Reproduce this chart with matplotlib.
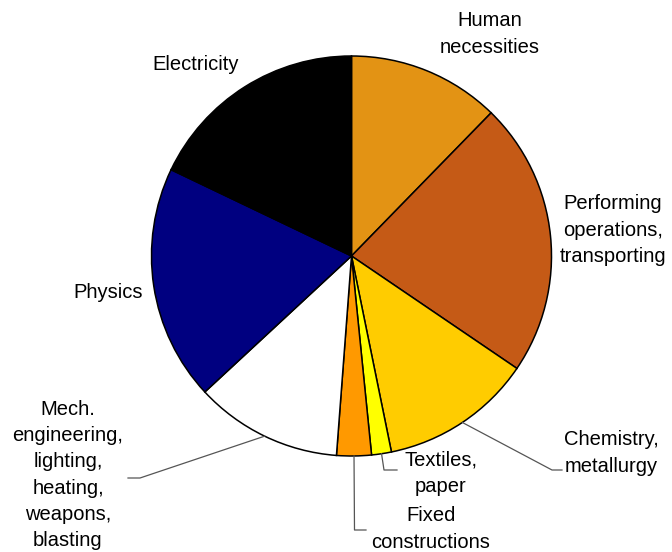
import numpy as np
import matplotlib
matplotlib.use("Agg")
import matplotlib.pyplot as plt

plt.rcParams['font.family'] = ['Liberation Sans', 'DejaVu Sans']

# share of patents by IPC section (percent), clockwise from the top
sections = ["Human\nnecessities", "Performing\noperations,\ntransporting",
            "Chemistry,\nmetallurgy", "Textiles,\npaper", "Fixed\nconstructions",
            "Mech.\nengineering,\nlighting,\nheating,\nweapons,\nblasting",
            "Physics", "Electricity"]
shares = [12.3, 22.2, 12.3, 1.6, 2.8, 11.9, 19.0, 17.9]
colors = ["#E39314", "#C55A16", "#FFCC00", "#FFFF00", "#FF9900",
          "#FFFFFF", "#000080", "#000000"]

fig = plt.figure(figsize=(6.72, 5.52), dpi=100)
# pie centred at (351, 256) px with a 200 px radius
ax = fig.add_axes([151.5 / 672, 96 / 552, 400 / 672, 400 / 552])

wedges, _ = ax.pie(shares, colors=colors, startangle=90, counterclock=False,
                   radius=1.0,
                   wedgeprops=dict(edgecolor="black", linewidth=1.1))
ax.set_xlim(-1, 1)
ax.set_ylim(-1, 1)
ax.set_aspect("equal")
ax.axis("off")

# label placement: (text x, text y, leader elbow, leader end) in pie units
label_pos = {
    0: ((0.6925, 1.11), None),
    1: ((1.3075, 0.13), None),
    2: ((1.2975, -0.985), ((1.0025, -1.07), (1.0525, -1.07))),
    3: ((0.4475, -1.085), ((0.1625, -1.07), (0.2275, -1.07))),
    4: ((0.3975, -1.365), ((0.015, -1.37), (0.0725, -1.37))),
    5: ((-1.4175, -1.095), ((-1.0575, -1.11), (-1.1175, -1.11))),
    6: ((-1.2175, -0.185), None),
    7: ((-0.7775, 0.96), None),
}

for i, (w, name) in enumerate(zip(wedges, sections)):
    (tx, ty), leader = label_pos[i]
    ax.text(tx, ty, name, ha="center", va="center", multialignment="center",
            fontsize=14.5, linespacing=1.47, clip_on=False)
    if leader is not None:
        mid = np.deg2rad((w.theta1 + w.theta2) / 2)
        x0, y0 = np.cos(mid), np.sin(mid)
        (ex, ey), (fx, fy) = leader
        ax.plot([x0, ex, fx], [y0, ey, fy], color="#555555", linewidth=0.9,
                clip_on=False)

fig.savefig("out.png", dpi=100)
